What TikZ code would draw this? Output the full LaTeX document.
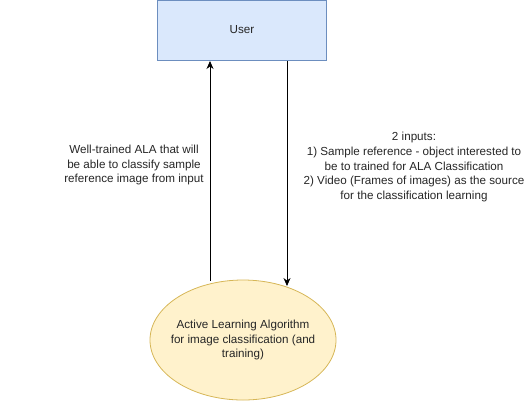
\documentclass[tikz,border=0pt]{standalone}
\usepackage{fontspec}
\setmainfont{Liberation Sans}
\usetikzlibrary{arrows.meta,shapes.geometric}
\definecolor{boxfill}{HTML}{DAE8FC}
\definecolor{boxline}{HTML}{6C8EBF}
\definecolor{ellfill}{HTML}{FFF2CC}
\definecolor{ellline}{HTML}{D6B656}
\tikzset{
  txt/.style={font=\fontsize{11.7}{14.8}\selectfont, align=center, text=black!85},
  conn/.style={draw=black, line width=0.8pt, -{Stealth[length=8pt,width=7pt,inset=2.5pt]}},
}
\begin{document}
\begin{tikzpicture}[x=1bp,y=-1bp]
\useasboundingbox (0,0) rectangle (531,401);
\node[draw=boxline, fill=boxfill, line width=0.8pt, minimum width=169bp, minimum height=60bp, inner sep=0pt, txt] (user) at (242,30) {User};
\node[draw=ellline, fill=ellfill, line width=0.8pt, ellipse, minimum width=186bp, minimum height=120bp, inner sep=0pt] (ala) at (243,340) {};
\node[txt] (alatext) at (ala.center) {Active Learning Algorithm\\for image classification (and\\training)};
\coordinate (lb) at (210,281);
\coordinate (lt) at (210,61);
\coordinate (rt) at (287,61);
\coordinate (rb) at (287,286);
\draw[conn] (lb) -- (lt);
\draw[conn] (rt) -- (rb);
\node[txt] (ltext) at (134,165) {Well-trained ALA that will\\be able to classify sample\\reference image from input};
\node[txt] (rtext) at (414,167) {2 inputs:\\1) Sample reference - object interested to\\be to trained for ALA Classification\\2) Video (Frames of images) as the source\\for the classification learning};
\end{tikzpicture}
\end{document}
